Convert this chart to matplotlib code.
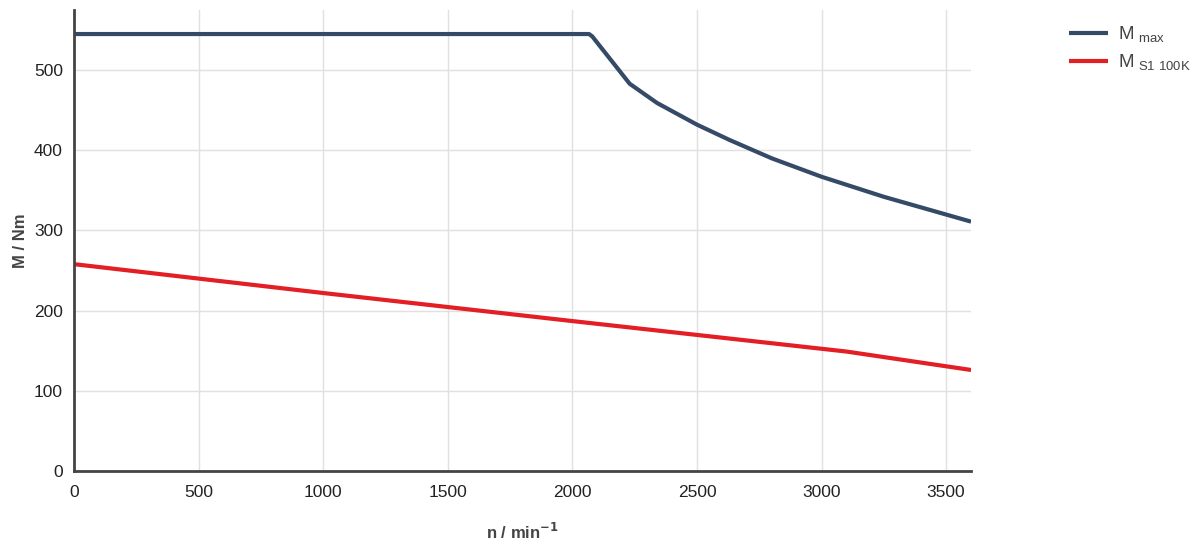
import matplotlib
matplotlib.use("Agg")
import matplotlib.pyplot as plt

plt.rcParams['font.family'] = ['Liberation Sans', 'DejaVu Sans']

n_max = [0, 2067, 2080, 2230, 2340, 2500, 2630, 2800, 3000, 3250, 3600]
m_max = [545, 545, 542, 483, 459, 432, 413, 390, 367, 342, 311]

n_s1 = [0, 1000, 2000, 3100, 3600]
m_s1 = [258, 222, 187, 149, 126]

x_ticks = [0, 500, 1000, 1500, 2000, 2500, 3000, 3500]
y_ticks = [0, 100, 200, 300, 400, 500]

fig = plt.figure(figsize=(11.95, 5.48), dpi=100)
ax = fig.add_axes([0.0619, 0.1405, 0.7507, 0.8413])

ax.plot(n_max, m_max, color='#344a66', lw=3, solid_capstyle='butt', label=r'M$_{\mathregular{\ max}}$')
ax.plot(n_s1, m_s1, color='#e31e24', lw=3, solid_capstyle='butt', label=r'M$_{\mathregular{\ S1\ 100K}}$')

ax.set_xlim(0, 3600)
ax.set_ylim(0, 575)
ax.set_xticks(x_ticks)
ax.set_yticks(y_ticks)
ax.grid(True, color='#e0e0e0', lw=1)
ax.set_axisbelow(True)
for s in ['top', 'right']:
    ax.spines[s].set_visible(False)
for s in ['left', 'bottom']:
    ax.spines[s].set_color('#444444')
    ax.spines[s].set_linewidth(2)
ax.tick_params(length=0, labelsize=12.5, colors='#222222', pad=8)
ax.tick_params(axis='x', pad=10)

ax.set_ylabel('M / Nm', fontsize=12, fontweight='bold', color='#444444', labelpad=4)
ax.set_xlabel(r'n / min$^{\mathbf{-1}}$', fontsize=12, fontweight='bold', color='#444444', labelpad=16)

leg = fig.legend(loc='upper left', bbox_to_anchor=(0.8946, 0.955), frameon=False,
                 fontsize=13.5, handlelength=2.1, handletextpad=0.5, labelspacing=0.4,
                 borderpad=0, borderaxespad=0)
for t in leg.get_texts():
    t.set_color('#444444')

fig.savefig('out.png', dpi=100)
